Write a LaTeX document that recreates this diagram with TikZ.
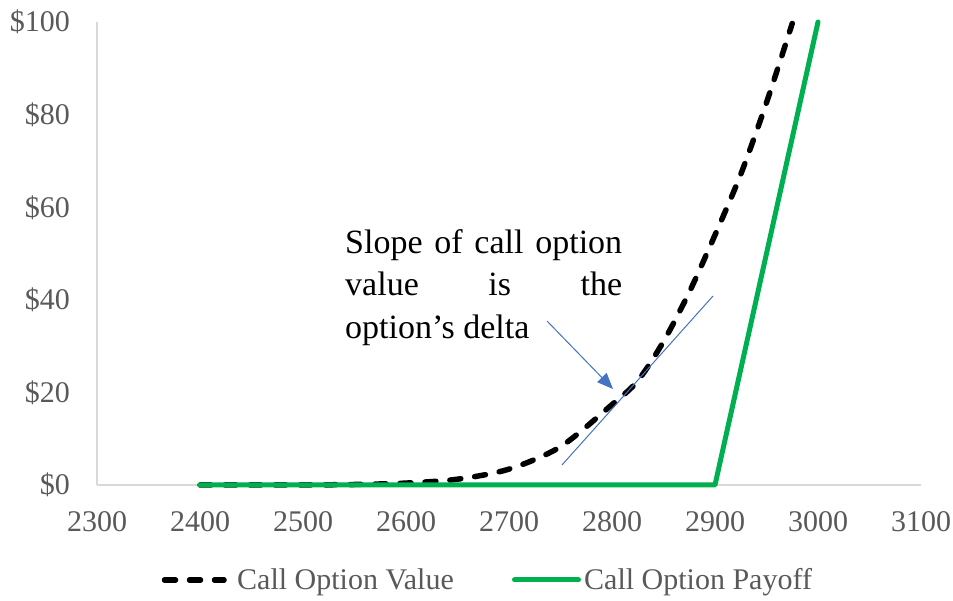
\documentclass[tikz,border=0pt]{standalone}
\usepackage{fontspec}
\setmainfont{Liberation Serif}
\usepackage{xcolor}
\usepackage{tikz}
\usetikzlibrary{arrows.meta,positioning}

\definecolor{labelgray}{HTML}{595959}
\definecolor{axisgray}{HTML}{D9D9D9}
\definecolor{payoffgreen}{HTML}{00B050}
\definecolor{deltablue}{HTML}{4472C4}

\begin{document}
\begin{tikzpicture}[
    x=1pt, y=1pt,
    axis/.style={draw=axisgray, line width=1.5pt},
    ticklabel/.style={font=\fontsize{30}{36}\selectfont, text=labelgray, inner sep=0pt},
    legendtext/.style={font=\fontsize{30}{36}\selectfont, text=labelgray, inner sep=0pt, anchor=base west},
    value/.style={draw=black, line width=5.5pt, dash pattern=on 11pt off 14pt, line cap=round, line join=round},
    payoff/.style={draw=payoffgreen, line width=5pt, line cap=round, line join=round},
    tangent/.style={draw=deltablue, line width=1pt},
    arrow/.style={-{Triangle[length=16pt,width=13pt]}, draw=deltablue, line width=1pt},
    note/.style={font=\fontsize{34}{42.5}\selectfont, text=black, inner sep=0pt, align=left}
]
    \useasboundingbox (0,0) rectangle (953,601);

    % Axes
    \coordinate (origin) at (97,116);
    \coordinate (xend) at (921,116);
    \coordinate (ytop) at (97,579);
    \draw[axis] (origin) -- (xend);
    \draw[axis] (origin) -- (ytop);

    % Y tick labels
    \node[ticklabel, anchor=base east] (y100) at (70,569) {\$100};
    \node[ticklabel, anchor=base east] (y80) at (70,476.4) {\$80};
    \node[ticklabel, anchor=base east] (y60) at (70,383.8) {\$60};
    \node[ticklabel, anchor=base east] (y40) at (70,291.2) {\$40};
    \node[ticklabel, anchor=base east] (y20) at (70,198.6) {\$20};
    \node[ticklabel, anchor=base east] (y0) at (70,106) {\$0};

    % X tick labels
    \node[ticklabel, anchor=base] (x2300) at (97,69) {2300};
    \node[ticklabel, anchor=base] (x2400) at (200,69) {2400};
    \node[ticklabel, anchor=base] (x2500) at (303,69) {2500};
    \node[ticklabel, anchor=base] (x2600) at (406,69) {2600};
    \node[ticklabel, anchor=base] (x2700) at (509,69) {2700};
    \node[ticklabel, anchor=base] (x2800) at (612,69) {2800};
    \node[ticklabel, anchor=base] (x2900) at (715,69) {2900};
    \node[ticklabel, anchor=base] (x3000) at (818,69) {3000};
    \node[ticklabel, anchor=base] (x3100) at (921,69) {3100};

    % Call option value
    \draw[value] plot[smooth] coordinates {(200,116) (303,116.1) (354.5,116.5) (406,117.9)
        (457.5,121.8) (509,131.9) (560.5,154.3) (612,196.4) (637.75,220.2) (663.5,259.5)
        (689.25,308.8) (715,366) (740.75,426.7) (766.5,498.4) (792.25,577.6)};

    % Call option payoff
    \coordinate (pay0) at (200,116);
    \coordinate (strike) at (715,116);
    \coordinate (pay100) at (818,579);
    \draw[payoff] (pay0) -- (strike) -- (pay100);

    % Tangent and arrow
    \coordinate (tanlo) at (562,136);
    \coordinate (tanhi) at (713,305);
    \draw[tangent] (tanlo) -- (tanhi);
    \coordinate (arrowtail) at (547,280);
    \coordinate (arrowtip) at (613,212);
    \draw[arrow] (arrowtail) -- (arrowtip);

    % Annotation
    \node[note, anchor=north west] (delta) at (345,372)
        {\makebox[277pt][s]{Slope of call option}\\\makebox[277pt][s]{value is the}\\option’s delta};

    % Legend
    \coordinate (leg1a) at (164.5,21);
    \coordinate (leg1b) at (224,21);
    \draw[value] (leg1a) -- (leg1b);
    \node[legendtext] (leg1) at (237,11) {Call Option Value};
    \coordinate (leg2a) at (514.5,21);
    \coordinate (leg2b) at (578.5,21);
    \draw[payoff] (leg2a) -- (leg2b);
    \node[legendtext] (leg2) at (584,11) {Call Option Payoff};

\end{tikzpicture}
\end{document}
